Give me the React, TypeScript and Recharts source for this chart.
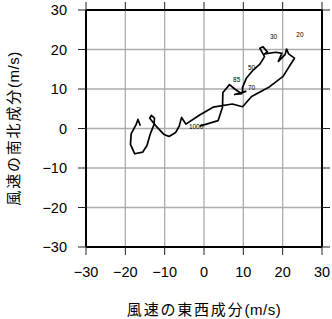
import { ComposedChart, Line, Scatter, XAxis, YAxis, CartesianGrid, Label } from 'recharts'

// hodograph trace, east-west (u) and north-south (v) components in m/s
const windU = [
  -1.1, 3.6, 4.7, 4.8, 6.5, 7.8, 9.6, 7.8, 10.6, 9.8, 9.8, 10.8, 12.5, 14.2, 15.4,
  14.2, 15.0, 16.1, 15.4, 18.3, 19.8, 18.9, 20.6, 21.0, 21.5, 23.0, 20.1, 16.7,
  12.1, 9.8, 7.2, 2.3, -1.1, -4.6, -5.7, -6.3, -7.2, -8.9, -10.2, -12.0, -13.8,
  -13.4, -12.6, -12.7, -13.7, -14.5, -15.6, -17.6, -18.7, -18.5, -17.3, -16.8, -16.2,
]
const windV = [
  0.6, 2.0, 5.4, 9.1, 11.1, 10.0, 8.8, 8.6, 9.4, 9.1, 10.4, 12.8, 14.8, 16.3, 18.2,
  20.3, 20.7, 19.4, 18.9, 19.3, 19.0, 17.0, 18.7, 20.1, 18.9, 17.8, 13.2, 10.6,
  8.1, 5.5, 6.2, 5.4, 3.4, 1.1, 2.8, 0.6, -1.0, -2.0, -1.5, 0.4, 2.6,
  3.3, 2.6, 1.0, -1.5, -4.3, -6.0, -6.4, -4.0, -1.3, 0.9, 2.3, 0.7,
]

// pressure level annotations
const levelNames = ['20', '30', '50', '70', '85', '1000']
const levelU = [24.4, 17.7, 12.1, 12.1, 8.3, -2.0]
const levelV = [23.7, 23.3, 15.5, 10.5, 12.3, 0.5]

const axisTicks = [-30, -20, -10, 0, 10, 20, 30]
const DOMAIN: [number, number] = [-30, 30]

const windData = windU.map((u, i) => ({ u, v: windV[i] }))
const levelData = levelNames.map((name, i) => ({ name, u: levelU[i], v: levelV[i] }))

const W = 332
const H = 319
const MARGIN = { top: 10, right: 10, bottom: 0, left: 0 }
const Y_AXIS_W = 86
const X_AXIS_H = 72
const PLOT_TOP = MARGIN.top
const PLOT_BOTTOM = H - MARGIN.bottom - X_AXIS_H
const TICK_LEN = 8

const TICK_FONT = '"Liberation Sans", Arial, sans-serif'
const CJK_FONT = '"Noto Sans CJK JP", "Noto Sans", sans-serif'

const fmt = (v: number) => (v < 0 ? '\u2212' + Math.abs(v) : String(v))
const frac = (t: number) => (t - DOMAIN[0]) / (DOMAIN[1] - DOMAIN[0])

const LevelText = (props: any) => {
  const { cx, cy, payload } = props
  return (
    <text x={cx} y={cy} textAnchor="middle" dominantBaseline="central" fontSize={6.5} fontFamily={TICK_FONT} fill="#000">
      {payload.name}
    </text>
  )
}

// x title, plus the top and right sides of the frame with their outward ticks
const XTitle = (props: any) => {
  const { viewBox } = props
  const left = viewBox.x
  const right = viewBox.x + viewBox.width
  const plotH = PLOT_BOTTOM - PLOT_TOP
  return (
    <g>
      <line x1={left} x2={right + 1} y1={PLOT_TOP} y2={PLOT_TOP} stroke="#000" strokeWidth={2} />
      <line x1={right} x2={right} y1={PLOT_TOP} y2={PLOT_BOTTOM} stroke="#000" strokeWidth={2} />
      {axisTicks.map((t) => {
        const x = left + frac(t) * viewBox.width
        return <line key={'t' + t} x1={x} x2={x} y1={PLOT_TOP - TICK_LEN} y2={PLOT_TOP} stroke="#222" />
      })}
      {axisTicks.map((t) => {
        const y = PLOT_BOTTOM - frac(t) * plotH
        return <line key={'r' + t} x1={right} x2={right + TICK_LEN} y1={y} y2={y} stroke="#222" />
      })}
      <text x={(left + right) / 2} y={315} textAnchor="middle" fill="#000">
        <tspan fontFamily={CJK_FONT} fontSize={15} letterSpacing={1.8}>風速の東西成分</tspan>
        <tspan fontFamily={TICK_FONT} fontSize={15} letterSpacing={0.5}>(m/s)</tspan>
      </text>
    </g>
  )
}

const YTitle = (props: any) => {
  const { viewBox } = props
  const cy = viewBox.y + viewBox.height / 2
  return (
    <text x={0} y={0} textAnchor="middle" fill="#000" transform={`translate(19, ${cy}) rotate(-90)`}>
      <tspan fontFamily={CJK_FONT} fontSize={15} letterSpacing={1.8}>風速の南北成分</tspan>
      <tspan fontFamily={TICK_FONT} fontSize={15} letterSpacing={0.5}>(m/s)</tspan>
    </text>
  )
}

const tickStyle = { fill: '#000', fontSize: 14.5, fontFamily: TICK_FONT }

export default function App() {
  return (
    <div style={{ width: W, height: H }}>
      <style>{'body { margin: 0; }'}</style>
      <ComposedChart data={windData} width={W} height={H} margin={MARGIN}>
        <CartesianGrid stroke="#acacac" strokeWidth={1.3} xAxisId={0} yAxisId={0} />
        <XAxis
          type="number"
          dataKey="u"
          domain={DOMAIN}
          ticks={axisTicks}
          interval={0}
          allowDataOverflow
          height={X_AXIS_H}
          tickFormatter={fmt}
          tick={tickStyle}
          tickSize={TICK_LEN}
          tickMargin={12}
          axisLine={{ stroke: '#000', strokeWidth: 2 }}
          tickLine={{ stroke: '#222' }}
        >
          <Label content={<XTitle />} />
        </XAxis>
        <YAxis
          type="number"
          dataKey="v"
          domain={DOMAIN}
          ticks={axisTicks}
          interval={0}
          allowDataOverflow
          width={Y_AXIS_W}
          tickFormatter={fmt}
          tick={tickStyle}
          tickSize={TICK_LEN}
          tickMargin={11}
          axisLine={{ stroke: '#000', strokeWidth: 2 }}
          tickLine={{ stroke: '#222' }}
        >
          <Label content={<YTitle />} />
        </YAxis>
        <Line
          dataKey="v"
          type="linear"
          stroke="#000"
          strokeWidth={1.7}
          strokeLinejoin="round"
          dot={false}
          activeDot={false}
          isAnimationActive={false}
        />
        <Scatter data={levelData} dataKey="v" shape={<LevelText />} isAnimationActive={false} />
      </ComposedChart>
    </div>
  )
}
